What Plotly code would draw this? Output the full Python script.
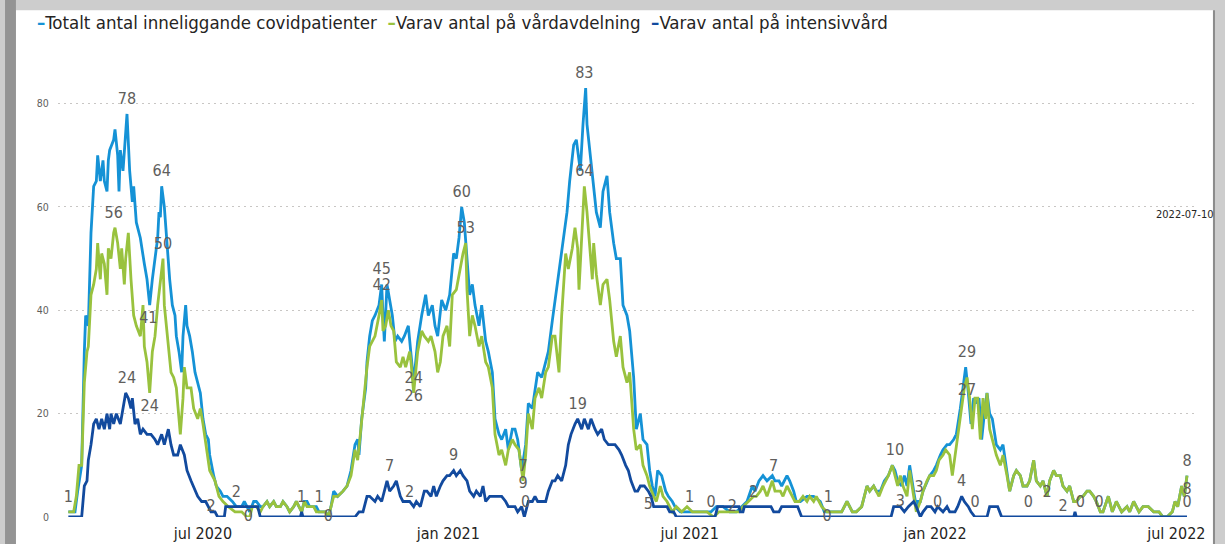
import pandas as pd
import plotly.graph_objects as go

# ---------------- data (day offsets from DAY0, value) ----------------
DAY0 = "2020-07-01"
LAST_DATE = "2022-07-10"

series_names = [
    "Totalt antal inneliggande covidpatienter",
    "Varav antal på vårdavdelning",
    "Varav antal på intensivvård",
]

total_pts = [
    (-101, 1), (-96, 1), (-94, 5), (-91, 10), (-89, 32), (-88, 39), (-86, 37), (-84, 55), (-82, 64), (-80, 65),
    (-79, 70), (-77, 65), (-75, 69), (-74, 65), (-72, 63), (-71, 69), (-70, 71), (-67, 73), (-66, 75), (-64, 70),
    (-63, 63), (-62, 71), (-60, 67), (-59, 71), (-57, 78), (-55, 67), (-53, 61), (-52, 64), (-50, 57), (-47, 54),
    (-46, 52), (-44, 49), (-42, 46), (-40, 41), (-38, 46), (-36, 50), (-34, 54), (-33, 59), (-32, 58), (-31, 64),
    (-29, 60), (-27, 53), (-25, 46), (-23, 41), (-21, 39), (-20, 35), (-18, 32), (-16, 28), (-15, 35), (-13, 41),
    (-12, 37), (-10, 35), (-8, 32), (-6, 28), (-4, 26), (-2, 24), (0, 19), (2, 16), (4, 15), (5, 12), (8, 8),
    (10, 6), (13, 5), (15, 4), (18, 4), (22, 3), (25, 2), (29, 2), (31, 3), (33, 2), (35, 1), (38, 3),
    (40, 3), (43, 2), (45, 2), (48, 3), (50, 2), (53, 3), (55, 2), (58, 2), (60, 3), (63, 2), (65, 1), (68, 2),
    (70, 3), (72, 2), (74, 1), (76, 3), (78, 3), (80, 2), (83, 2), (85, 2), (87, 1), (90, 1), (92, 1), (94, 0),
    (96, 2), (98, 5), (101, 4), (105, 5), (108, 6), (111, 9), (114, 14), (116, 15), (117, 12), (119, 19),
    (122, 25), (123, 30), (125, 35), (127, 38), (129, 39), (132, 41), (134, 45), (135, 39), (136, 34), (138, 45),
    (140, 42), (142, 39), (144, 34), (146, 35), (149, 34), (151, 35), (154, 37), (156, 32), (158, 26), (161, 34),
    (164, 39), (167, 43), (169, 39), (172, 41), (174, 37), (176, 35), (179, 42), (182, 40), (185, 43), (188, 51),
    (190, 50), (192, 54), (194, 60), (196, 57), (198, 50), (200, 43), (202, 45), (204, 41), (207, 37), (209, 41),
    (212, 34), (214, 32), (217, 28), (219, 19), (222, 16), (224, 15), (227, 17), (229, 13), (232, 17), (234, 17),
    (236, 15), (239, 9), (242, 14), (244, 22), (247, 21), (249, 25), (251, 28), (254, 27), (257, 30), (259, 32),
    (262, 38), (264, 42), (267, 47), (270, 54), (273, 59), (275, 65), (278, 72), (280, 73), (283, 67), (285, 76),
    (287, 83), (288, 76), (290, 71), (293, 63), (295, 59), (298, 56), (300, 63), (303, 66), (305, 59), (308, 53),
    (310, 50), (313, 50), (315, 41), (318, 39), (320, 36), (323, 27), (325, 17), (328, 20), (330, 15), (333, 14),
    (335, 9), (337, 6), (339, 4), (341, 9), (344, 8), (347, 5), (349, 4), (352, 3), (354, 2), (358, 1), (363, 1),
    (365, 1), (368, 1), (372, 1), (375, 1), (381, 1), (385, 2), (390, 2), (395, 1), (400, 1), (404, 2), (408, 3),
    (412, 6), (414, 5), (417, 7), (420, 8), (423, 7), (427, 8), (429, 7), (432, 7), (434, 6), (438, 8), (440, 7),
    (443, 5), (445, 3), (448, 3), (453, 4), (458, 4), (463, 3), (466, 1), (470, 1), (475, 1), (479, 1), (483, 3),
    (487, 1), (490, 1), (494, 2), (498, 6), (500, 5), (503, 6), (505, 5), (508, 5), (511, 7), (514, 8), (517, 10),
    (519, 9), (521, 7), (524, 6), (526, 8), (528, 6), (530, 10), (533, 5), (535, 2), (536, 3), (538, 3), (540, 5),
    (543, 7), (545, 8), (548, 9), (550, 10), (553, 12), (555, 13), (558, 14), (560, 14), (563, 15), (565, 16),
    (568, 21), (570, 25), (572, 29), (574, 24), (576, 18), (578, 23), (580, 22), (582, 23), (584, 15), (586, 20),
    (588, 24), (590, 20), (592, 19), (595, 14), (598, 13), (600, 14), (602, 10), (605, 5), (608, 8), (610, 9),
    (613, 8), (615, 6), (618, 6), (620, 7), (623, 11), (625, 7), (628, 6), (630, 7), (633, 4), (635, 7), (638, 9),
    (640, 8), (643, 8), (645, 6), (648, 5), (650, 6), (653, 3), (655, 3), (658, 4), (660, 4), (663, 5), (665, 5),
    (668, 4), (670, 3), (673, 1), (675, 1), (679, 4), (682, 1), (685, 3), (689, 1), (693, 2), (695, 1), (698, 3),
    (702, 1), (705, 2), (709, 2), (713, 1), (717, 1), (720, 0), (723, 0), (727, 1), (729, 3), (731, 2), (734, 6),
    (736, 4), (738, 8),
]

ward_pts = [
    (-101, 1), (-97, 1), (-95, 4), (-93, 10), (-91, 10), (-89, 26), (-87, 32), (-86, 33), (-84, 43), (-82, 45),
    (-80, 48), (-79, 53), (-77, 46), (-76, 51), (-74, 49), (-72, 43), (-71, 52), (-69, 50), (-67, 55), (-66, 56),
    (-64, 53), (-62, 48), (-61, 52), (-59, 45), (-58, 50), (-56, 55), (-54, 46), (-52, 39), (-50, 37), (-47, 35),
    (-45, 41), (-44, 33), (-42, 30), (-40, 24), (-38, 32), (-36, 35), (-34, 41), (-32, 45), (-30, 50), (-29, 41),
    (-26, 33), (-24, 28), (-22, 27), (-20, 25), (-17, 16), (-15, 23), (-14, 29), (-12, 25), (-9, 25), (-7, 21),
    (-4, 19), (-2, 21), (0, 18), (3, 12), (5, 9), (9, 7), (12, 4), (15, 3), (19, 2), (24, 1), (29, 1), (33, 0),
    (35, 0), (37, 2), (40, 2), (43, 1), (45, 2), (48, 3), (50, 2), (53, 3), (55, 2), (58, 2), (60, 3), (63, 2),
    (65, 1), (68, 2), (70, 3), (72, 2), (74, 1), (76, 3), (78, 2), (80, 2), (83, 2), (85, 1), (87, 1), (90, 1),
    (92, 1), (94, 0), (96, 2), (98, 4), (101, 4), (105, 5), (108, 6), (111, 8), (114, 13), (116, 11), (118, 16),
    (121, 24), (123, 29), (125, 33), (127, 34), (129, 35), (132, 39), (134, 42), (135, 36), (137, 37), (139, 40),
    (141, 37), (143, 36), (145, 30), (148, 29), (150, 31), (152, 29), (155, 32), (156, 30), (158, 24), (161, 32),
    (164, 36), (166, 35), (169, 34), (171, 35), (174, 32), (176, 28), (178, 30), (180, 35), (183, 37), (185, 33),
    (187, 43), (190, 44), (192, 47), (195, 51), (197, 53), (198, 44), (200, 35), (202, 39), (204, 37), (207, 33),
    (209, 35), (212, 30), (214, 29), (217, 25), (219, 16), (222, 12), (224, 13), (227, 10), (229, 13), (232, 15),
    (234, 14), (237, 13), (240, 7), (242, 12), (244, 20), (247, 17), (249, 23), (252, 25), (254, 23), (257, 28),
    (259, 29), (262, 35), (264, 35), (267, 28), (269, 39), (272, 51), (274, 48), (277, 52), (279, 56), (281, 52),
    (282, 44), (284, 55), (286, 64), (288, 59), (290, 52), (292, 46), (293, 53), (295, 47), (298, 41), (300, 45),
    (303, 46), (305, 42), (308, 34), (310, 31), (313, 35), (315, 29), (318, 26), (320, 28), (323, 17), (325, 13),
    (328, 14), (330, 10), (333, 8), (335, 6), (338, 4), (340, 3), (343, 6), (345, 4), (348, 3), (352, 1), (355, 2),
    (359, 1), (363, 2), (367, 1), (372, 1), (378, 1), (383, 0), (387, 1), (392, 1), (397, 1), (402, 1), (405, 2),
    (409, 3), (413, 4), (415, 4), (418, 5), (420, 6), (423, 4), (427, 7), (429, 5), (433, 5), (435, 4), (438, 6),
    (442, 4), (444, 3), (447, 3), (450, 4), (453, 3), (455, 4), (458, 3), (460, 4), (464, 2), (468, 1), (471, 1),
    (475, 1), (479, 1), (483, 3), (487, 1), (490, 1), (494, 2), (498, 6), (500, 5), (503, 6), (507, 4), (510, 6),
    (514, 8), (517, 10), (519, 8), (521, 6), (523, 8), (525, 6), (528, 4), (530, 9), (533, 4), (535, 1), (538, 3),
    (540, 5), (543, 7), (545, 8), (548, 8), (550, 9), (552, 11), (555, 12), (557, 13), (560, 12), (562, 8),
    (564, 12), (567, 17), (569, 21), (571, 25), (573, 27), (575, 23), (577, 17), (579, 23), (581, 23), (583, 15),
    (585, 23), (587, 19), (588, 24), (590, 17), (593, 14), (595, 12), (598, 10), (600, 12), (603, 8), (605, 5),
    (608, 8), (610, 9), (613, 8), (615, 6), (618, 6), (620, 7), (623, 11), (625, 7), (628, 6), (630, 7), (633, 4),
    (635, 7), (638, 9), (640, 8), (643, 8), (645, 6), (648, 5), (650, 6), (653, 3), (655, 3), (658, 4), (660, 4),
    (663, 5), (665, 5), (668, 4), (670, 3), (673, 1), (675, 1), (679, 4), (682, 1), (685, 3), (689, 1), (693, 2),
    (695, 1), (698, 3), (702, 1), (705, 2), (709, 2), (713, 1), (717, 1), (720, 0), (723, 0), (727, 1), (729, 3),
    (731, 2), (734, 6), (736, 4), (738, 8),
]

icu_pts = [
    (-101, 0), (-91, 0), (-89, 6), (-87, 7), (-86, 11), (-84, 14), (-82, 18), (-80, 19), (-78, 17), (-76, 19),
    (-74, 17), (-72, 20), (-70, 17), (-69, 20), (-67, 18), (-65, 20), (-62, 18), (-60, 21), (-58, 24), (-56, 23),
    (-54, 21), (-53, 23), (-51, 18), (-49, 19), (-47, 16), (-45, 17), (-42, 16), (-39, 16), (-36, 15), (-34, 14),
    (-31, 16), (-29, 14), (-26, 17), (-24, 14), (-22, 12), (-19, 12), (-17, 14), (-14, 12), (-12, 9), (-9, 7),
    (-6, 5), (-4, 4), (-1, 3), (2, 3), (4, 2), (6, 1), (9, 1), (11, 0), (16, 0), (17, 2), (41, 2), (43, 0),
    (73, 0), (74, 1), (75, 0), (114, 0), (117, 1), (120, 1), (123, 4), (125, 4), (129, 3), (131, 4), (134, 3),
    (138, 7), (140, 5), (143, 6), (145, 7), (148, 4), (150, 3), (153, 3), (155, 3), (158, 2), (160, 3), (163, 2),
    (166, 5), (168, 5), (171, 4), (173, 6), (175, 4), (178, 6), (180, 7), (183, 8), (185, 8), (188, 9), (190, 8),
    (193, 9), (195, 8), (198, 7), (200, 5), (203, 4), (205, 5), (208, 4), (210, 6), (212, 3), (215, 4), (218, 4),
    (220, 4), (224, 4), (227, 3), (229, 2), (231, 2), (234, 2), (236, 1), (239, 2), (241, 0), (244, 3), (247, 3),
    (249, 4), (251, 3), (254, 3), (257, 3), (259, 5), (262, 7), (264, 7), (266, 8), (269, 7), (272, 10), (274, 14),
    (276, 16), (279, 18), (281, 19), (284, 17), (286, 19), (289, 17), (291, 19), (294, 17), (296, 16), (299, 17),
    (301, 15), (304, 14), (307, 14), (309, 14), (312, 13), (314, 12), (317, 10), (319, 9), (321, 7), (324, 5),
    (326, 5), (328, 6), (331, 6), (334, 5), (336, 4), (338, 2), (348, 2), (350, 1), (353, 1), (355, 0), (384, 0),
    (386, 2), (402, 2), (403, 1), (405, 1), (406, 2), (426, 2), (428, 1), (432, 1), (434, 2), (446, 2), (449, 0),
    (516, 0), (518, 2), (521, 2), (523, 2), (526, 1), (529, 2), (533, 3), (535, 2), (538, 0), (540, 1), (543, 2),
    (546, 2), (549, 1), (551, 2), (555, 1), (558, 2), (560, 1), (564, 1), (566, 2), (569, 4), (571, 3), (574, 2),
    (576, 1), (579, 0), (588, 0), (590, 2), (596, 2), (599, 0), (653, 0), (654, 1), (655, 0), (738, 0),
]

# data labels: (day, value, position)
label_pts = [
    (-101, 1, "top"), (-57, 78, "top"), (-31, 64, "top"), (-67, 56, "top"), (-30, 50, "top"),
    (-41, 41, "bottom"), (-57, 24, "top"), (-40, 24, "bottom"), (6, 2, "middle"), (25, 2, "top"),
    (34, 0, "middle"), (74, 1, "top"), (87, 1, "top"), (94, 0, "middle"), (134, 45, "top"), (134, 42, "top"),
    (158, 24, "top"), (158, 26, "bottom"), (140, 7, "top"), (155, 2, "top"), (194, 60, "top"),
    (197, 53, "top"), (188, 9, "top"), (240, 7, "top"), (240, 9, "bottom"), (242, 0, "top"),
    (286, 83, "top"), (286, 64, "top"), (281, 19, "top"), (334, 5, "bottom"), (365, 1, "top"),
    (381, 0, "top"), (397, 2, "middle"), (413, 2, "top"), (428, 7, "top"), (469, 1, "top"),
    (468, 0, "middle"), (519, 10, "top"), (523, 3, "middle"), (537, 3, "top"), (551, 0, "top"),
    (569, 4, "top"), (573, 29, "top"), (573, 27, "bottom"), (579, 0, "top"), (619, 0, "top"),
    (633, 2, "top"), (645, 2, "middle"), (658, 0, "top"), (672, 0, "top"), (738, 8, "top"),
    (738, 8, "bottom"), (738, 0, "top"),
]

tick_dates = ["2020-07-01", "2021-01-01", "2021-07-01", "2022-01-01", "2022-07-01"]
tick_text = ["jul 2020", "jan 2021", "jul 2021", "jan 2022", "jul 2022"]
y_ticks = [0, 20, 40, 60, 80]

# ---------------- style ----------------
colors = ["#1592D6", "#99C23E", "#124A9E"]
FONT = "DejaVu Sans Condensed, Liberation Sans Narrow, sans-serif"
LABEL_GRAY = "#605E5C"
TEXT_DARK = "#252423"
CANVAS = "#cdcdcd"


def to_dates(days):
    return pd.Timestamp(DAY0) + pd.to_timedelta(list(days), unit="D")


fig = go.Figure()
for name, pts, col in zip(series_names, [total_pts, ward_pts, icu_pts], colors):
    d, v = zip(*pts)
    fig.add_trace(go.Scatter(
        x=to_dates(d), y=list(v), mode="lines", name=name,
        line=dict(color=col, width=2.8), showlegend=False, hoverinfo="skip",
    ))

ld, lv, lp = zip(*label_pts)
fig.add_trace(go.Scatter(
    x=to_dates(ld), y=list(lv), mode="markers+text", text=[str(v) for v in lv],
    textposition=[p + " center" for p in lp],
    marker=dict(size=8, opacity=0),
    textfont=dict(family=FONT, size=16, color=LABEL_GRAY),
    showlegend=False, hoverinfo="skip", cliponaxis=False,
))

# legend drawn as a single text line of coloured dashes + names
legend_html = "\u00a0\u00a0".join(
    f"<span style='color:{c}'><b>–</b></span>{n}" for n, c in zip(series_names, colors)
)

annotations = [
    dict(text=legend_html, xref="paper", yref="paper", x=-0.0202, y=1.083,
         xanchor="left", yanchor="middle", showarrow=False,
         font=dict(family=FONT, size=18.5, color=TEXT_DARK)),
    dict(text=LAST_DATE, xref="paper", yref="paper", x=1.0185, y=0.662,
         xanchor="right", yanchor="middle", showarrow=False,
         font=dict(family=FONT, size=11, color=TEXT_DARK)),
]

shapes = [
    # white report panel on grey canvas
    dict(type="rect", xref="paper", yref="paper", x0=-0.0370, x1=1.0158, y0=-0.2, y1=1.1088,
         fillcolor="white", line=dict(width=0), layer="below"),
    # left darker frame band
    dict(type="rect", xref="paper", yref="paper", x0=-0.0466, x1=-0.0370, y0=-0.2, y1=1.2,
         fillcolor="#949494", line=dict(width=0), layer="below"),
    # right shadow edge
    dict(type="rect", xref="paper", yref="paper", x0=1.0158, x1=1.0176, y0=-0.2, y1=1.1088,
         fillcolor="#8c8c8c", line=dict(width=0), layer="below"),
]

fig.update_layout(
    width=1225, height=544,
    margin=dict(l=58, r=30, t=60, b=27, pad=0, autoexpand=False),
    paper_bgcolor=CANVAS,
    plot_bgcolor="rgba(0,0,0,0)",
    font=dict(family=FONT, color=TEXT_DARK),
    annotations=annotations,
    shapes=shapes,
    xaxis=dict(
        type="date", automargin=False,
        range=["2020-03-14 06:00", "2022-07-15"],
        tickvals=tick_dates, ticktext=tick_text,
        showgrid=False, zeroline=False, showline=False,
        ticks="outside", ticklen=2, tickcolor="rgba(0,0,0,0)",
        tickfont=dict(family=FONT, size=16, color=TEXT_DARK),
    ),
    yaxis=dict(
        automargin=False,
        range=[0, 88.44],
        tickvals=y_ticks,
        showgrid=True, gridcolor="#C8C6C4", gridwidth=1, griddash="2px,4px",
        zeroline=False, showline=False,
        ticks="outside", ticklen=6, tickcolor="rgba(0,0,0,0)",
        tickfont=dict(family=FONT, size=10.5, color=LABEL_GRAY),
    ),
)

fig.write_html(
    "out.html",
    config={"displayModeBar": False},
    post_script=f"document.body.style.margin='0';document.body.style.background='{CANVAS}';",
)
